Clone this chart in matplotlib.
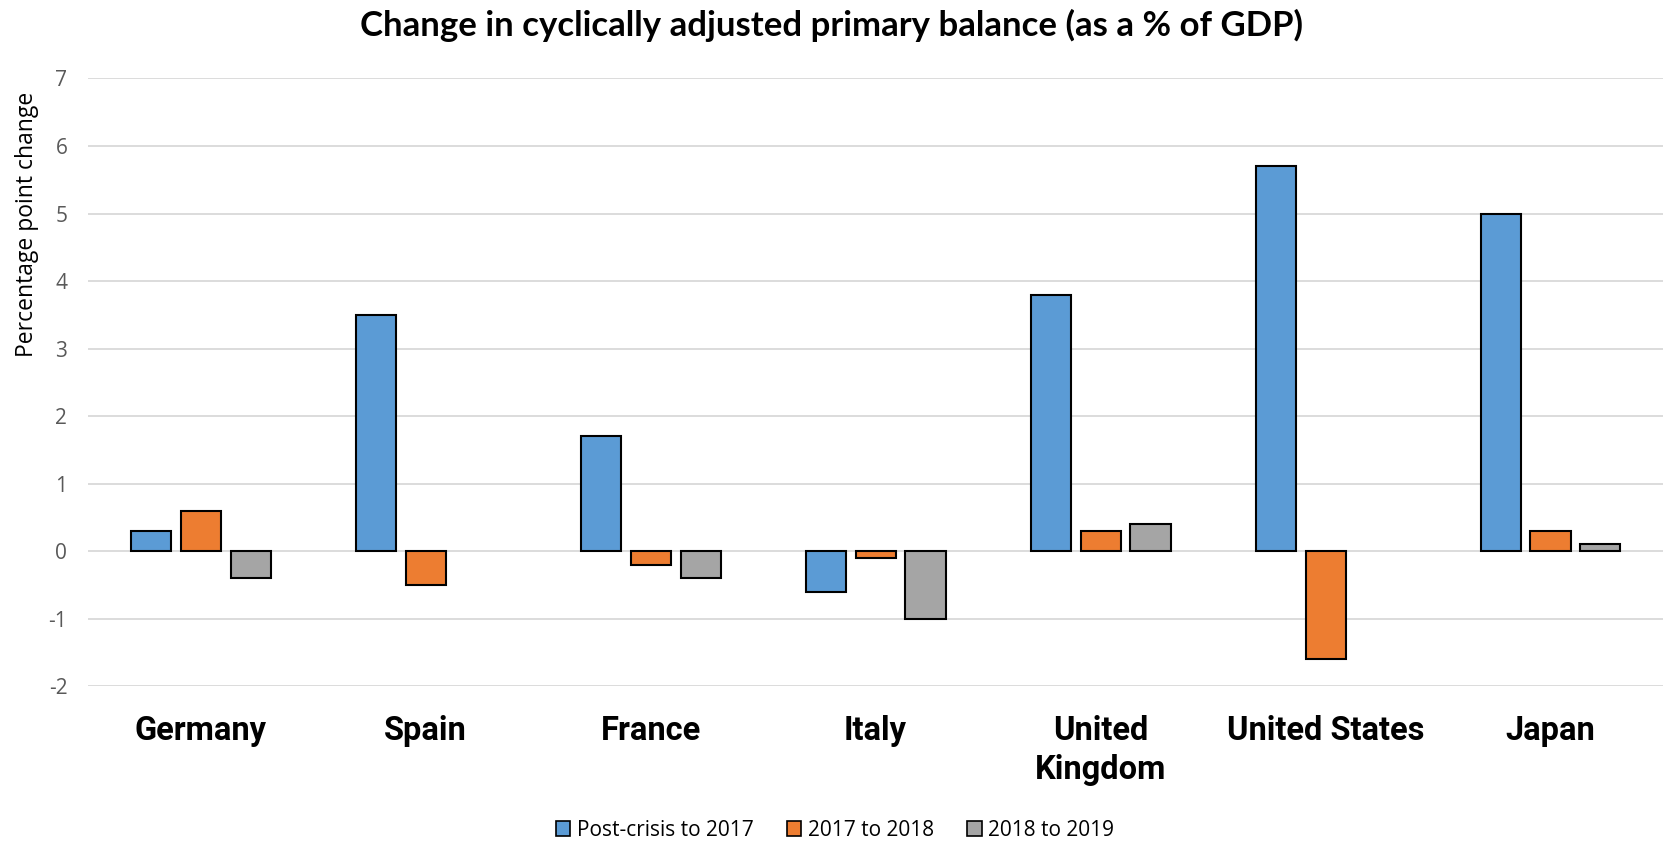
import numpy as np
import matplotlib
matplotlib.use("Agg")
import matplotlib.pyplot as plt

countries = ["Germany", "Spain", "France", "Italy", "United\nKingdom", "United States", "Japan"]
post_crisis = [0.3, 3.5, 1.7, -0.6, 3.8, 5.7, 5.0]
y2017_2018 = [0.6, -0.5, -0.2, -0.1, 0.3, -1.6, 0.3]
y2018_2019 = [-0.4, np.nan, -0.4, -1.0, 0.4, np.nan, 0.1]
series_names = ["Post-crisis to 2017", "2017 to 2018", "2018 to 2019"]
colors = ["#5B9BD5", "#ED7D31", "#A5A5A5"]

plt.rcParams["font.family"] = ["Open Sans", "DejaVu Sans"]
plt.rcParams["axes.unicode_minus"] = False

fig = plt.figure(figsize=(16.63, 8.44), dpi=100)
ax = fig.add_axes([0.053, 0.187, 0.947, 0.72])

x = np.arange(len(countries))
step = 0.222
width = 0.178
for i, vals in enumerate([post_crisis, y2017_2018, y2018_2019]):
    ax.bar(x + (i - 1) * step, vals, width=width, color=colors[i],
           edgecolor="black", linewidth=1.5, label=series_names[i], zorder=3)

ax.set_xlim(-0.5, len(countries) - 0.5)
ax.set_ylim(-2, 7)
ax.set_yticks(range(-2, 8))
ax.grid(axis="y", color="#D9D9D9", linewidth=1.3, zorder=0)
for s in ax.spines.values():
    s.set_visible(False)
ax.tick_params(axis="both", length=0)
ax.tick_params(axis="y", labelsize=15, labelcolor="#595959", pad=15)

ax.set_xticks(x)
ax.set_xticklabels(countries, fontsize=23.5, fontweight="bold",
                   family=["Roboto", "DejaVu Sans"], linespacing=1.25)
ax.tick_params(axis="x", pad=21)

ax.set_ylabel("Percentage point change", fontsize=16.5)
ax.yaxis.set_label_coords(-0.031, 0.76)

fig.suptitle("Change in cyclically adjusted primary balance (as a % of GDP)",
             fontsize=25, fontweight="bold", x=0.5, y=0.99,
             family=["Lato", "DejaVu Sans"])

leg = fig.legend(loc="lower center", bbox_to_anchor=(0.502, 0.004), ncol=3,
                 frameon=False, fontsize=15, handlelength=0.7, handleheight=0.7,
                 handletextpad=0.3, columnspacing=1.6, borderaxespad=0,
                 borderpad=0)
for p in leg.get_patches():
    p.set_linewidth(1.2)

fig.savefig("out.png", dpi=100)
